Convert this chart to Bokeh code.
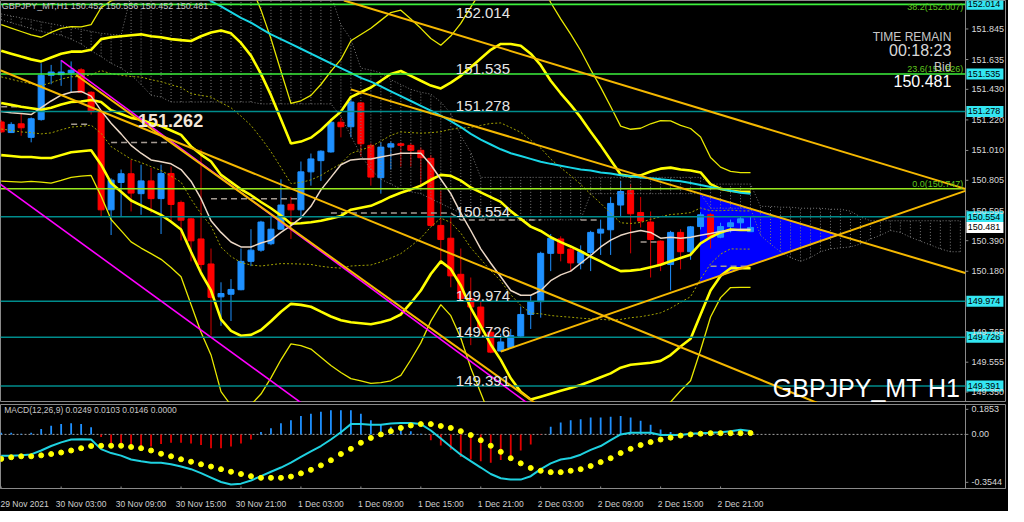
import numpy as np
from bokeh.plotting import figure
from bokeh.layouts import column
from bokeh.models import Range1d, FixedTicker, PrintfTickFormatter
from bokeh.core.properties import value
from bokeh.embed import file_html
from bokeh.resources import INLINE

# ---------------- data ----------------
tick_bars = [0, 6, 12, 18, 24, 30, 36, 42, 48, 54, 60, 66, 72]
tick_labels = ["29 Nov 2021", "30 Nov 03:00", "30 Nov 09:00", "30 Nov 15:00", "30 Nov 21:00",
               "1 Dec 03:00", "1 Dec 09:00", "1 Dec 15:00", "1 Dec 21:00", "2 Dec 03:00",
               "2 Dec 09:00", "2 Dec 15:00", "2 Dec 21:00"]
price_ticks = [151.845, 151.635, 151.430, 151.220, 151.010, 150.805, 150.595, 150.390,
               150.180, 149.765, 149.555, 149.350]

opens = [151.206, 151.133, 151.193, 151.100, 151.222, 151.527, 151.531, 151.543, 151.564, 151.410,
         151.277, 150.602, 150.790, 150.850, 150.713, 150.801, 150.679, 150.852, 150.653, 150.540,
         150.402, 150.230, 150.004, 150.022, 150.053, 150.248, 150.325, 150.369, 150.469, 150.640,
         150.602, 150.863, 150.940, 151.000, 151.204, 151.173, 151.337, 151.045, 150.823, 151.033,
         151.056, 151.045, 151.011, 150.956, 150.495, 150.407, 150.159, 149.993, 149.934, 149.761,
         149.632, 149.655, 149.734, 149.883, 149.971, 150.303, 150.402, 150.332, 150.236, 150.309,
         150.442, 150.465, 150.635, 150.735, 150.584, 150.518, 150.387, 150.226, 150.447, 150.314,
         150.487, 150.568, 150.414, 150.487, 150.513, 150.452]
highs = [151.220, 151.204, 151.262, 151.237, 151.609, 151.598, 151.631, 151.622, 151.576, 151.417,
         151.284, 150.819, 150.879, 150.945, 150.912, 150.890, 150.912, 150.900, 150.666, 150.547,
         151.018, 150.336, 150.104, 150.126, 150.336, 150.469, 150.527, 150.558, 150.812, 150.691,
         150.934, 150.989, 151.011, 151.211, 151.233, 151.377, 151.343, 151.058, 151.066, 151.070,
         151.066, 151.058, 151.031, 150.978, 150.734, 150.562, 150.336, 150.137, 149.971, 149.794,
         149.750, 149.783, 149.938, 150.015, 150.314, 150.436, 150.420, 150.347, 150.358, 150.458,
         150.535, 150.691, 150.801, 150.779, 150.691, 150.591, 150.392, 150.458, 150.469, 150.491,
         150.585, 150.580, 150.513, 150.535, 150.556, 150.556]
lows = [151.130, 151.131, 151.111, 151.066, 151.215, 151.465, 151.454, 151.410, 151.403, 151.257,
        150.558, 150.429, 150.558, 150.591, 150.568, 150.580, 150.436, 150.513, 150.392, 150.248,
        150.181, 149.738, 149.805, 149.838, 150.049, 150.215, 150.314, 150.359, 150.466, 150.402,
        150.558, 150.768, 150.801, 150.995, 151.100, 151.100, 150.967, 150.768, 150.713, 150.879,
        150.900, 150.900, 150.768, 150.487, 150.226, 150.070, 149.971, 149.672, 149.750, 149.617,
        149.628, 149.648, 149.728, 149.783, 149.861, 150.181, 150.248, 150.181, 150.193, 150.181,
        150.292, 150.292, 150.558, 150.303, 150.480, 150.137, 150.181, 150.049, 150.193, 150.259,
        150.467, 150.336, 150.407, 150.447, 150.460, 150.452]
closes = [151.138, 151.189, 151.166, 151.228, 151.527, 151.549, 151.549, 151.561, 151.410, 151.277,
          150.602, 150.806, 150.850, 150.717, 150.801, 150.679, 150.852, 150.639, 150.531, 150.389,
          150.226, 150.000, 150.027, 150.055, 150.248, 150.325, 150.518, 150.469, 150.635, 150.602,
          150.863, 150.952, 151.005, 151.204, 151.173, 151.343, 151.056, 150.827, 151.033, 151.056,
          151.045, 151.011, 150.960, 150.495, 150.398, 150.148, 149.993, 149.934, 149.794, 149.624,
          149.694, 149.738, 149.883, 149.971, 150.303, 150.407, 150.303, 150.237, 150.314, 150.447,
          150.469, 150.646, 150.728, 150.575, 150.525, 150.398, 150.226, 150.447, 150.314, 150.485,
          150.568, 150.414, 150.487, 150.513, 150.540, 150.481]

# Ichimoku-style cloud (upper / lower span), one value per bar incl. future bars
cloud_hi = [151.948, 151.934, 151.921, 151.908, 151.894, 151.881, 151.868, 151.855, 151.841, 151.828,
            151.815, 151.808, 151.802, 152.080, 152.080, 152.080, 152.080, 152.080, 152.080, 152.080,
            152.080, 152.080, 152.080, 152.080, 152.080, 152.080, 152.080, 152.080, 152.080, 152.080,
            152.080, 152.080, 152.080, 152.080, 151.875, 151.775, 151.576, 151.562, 151.543, 151.496,
            151.463, 151.430, 151.410, 151.397, 151.343, 151.264, 151.111, 150.998, 150.825, 150.825,
            150.825, 150.825, 150.825, 150.825, 150.825, 150.825, 150.825, 150.825, 150.825, 150.825,
            150.825, 150.825, 150.825, 150.825, 150.825, 150.825, 150.825, 150.825, 150.825, 150.825,
            150.825, 150.779, 150.779, 150.779, 150.779, 150.779, 150.626, 150.626, 150.620, 150.620,
            150.613, 150.613, 150.613, 150.606, 150.606, 150.593, 150.553, 150.527, 150.527, 150.527,
            150.527, 150.527, 150.527, 150.527, 150.527, 150.527, 150.527]
cloud_lo = [151.908, 151.888, 151.868, 151.848, 151.828, 151.815, 151.802, 151.775, 151.742, 151.695,
            151.655, 151.609, 151.576, 151.529, 151.463, 151.390, 151.377, 151.343, 151.343, 151.343,
            151.343, 151.343, 151.343, 151.343, 151.343, 151.343, 151.330, 151.330, 151.330, 151.330,
            151.330, 151.330, 151.330, 151.330, 151.244, 151.111, 150.978, 150.879, 150.812, 150.779,
            150.746, 150.726, 150.713, 150.679, 150.646, 150.613, 150.580, 150.567, 150.547, 150.533,
            150.533, 150.533, 150.533, 150.533, 150.533, 150.533, 150.533, 150.533, 150.533, 150.713,
            150.713, 150.713, 150.713, 150.713, 150.713, 150.713, 150.713, 150.713, 150.713, 150.713,
            150.713, 150.613, 150.613, 150.613, 150.613, 150.613, 150.427, 150.367, 150.314, 150.274,
            150.248, 150.274, 150.314, 150.334, 150.341, 150.347, 150.367, 150.401, 150.427, 150.460,
            150.447, 150.414, 150.387, 150.361, 150.334, 150.314, 150.314]

# Bollinger band (2 sigma) upper / lower
bb_upper = [151.695, 151.675, 151.655, 151.636, 151.622, 151.649, 151.675, 151.689, 151.689, 151.702,
            151.775, 151.788, 151.795, 151.802, 151.808, 151.795, 151.788, 151.775, 151.768, 151.762,
            151.795, 151.821, 151.835, 151.815, 151.749, 151.662, 151.536, 151.390, 151.224, 151.058,
            151.071, 151.098, 151.151, 151.217, 151.277, 151.377, 151.410, 151.443, 151.489, 151.536,
            151.556, 151.523, 151.489, 151.456, 151.436, 151.476, 151.523, 151.582, 151.642, 151.702,
            151.742, 151.742, 151.729, 151.675, 151.596, 151.489, 151.403, 151.323, 151.237, 151.138,
            151.045, 150.945, 150.845, 150.832, 150.839, 150.865, 150.885, 150.892, 150.879, 150.872,
            150.859, 150.779, 150.746, 150.733, 150.726, 150.726]
bb_lower = [150.978, 150.972, 150.965, 150.965, 150.958, 150.958, 150.978, 150.998, 151.005, 151.011,
            150.912, 150.786, 150.726, 150.666, 150.633, 150.600, 150.567, 150.520, 150.467, 150.314,
            150.168, 150.048, 149.849, 149.770, 149.737, 149.743, 149.776, 149.836, 149.902, 149.956,
            149.949, 149.936, 149.902, 149.869, 149.843, 149.829, 149.823, 149.816, 149.829, 149.849,
            149.883, 149.962, 150.048, 150.161, 150.248, 150.195, 150.082, 149.929, 149.803, 149.677,
            149.571, 149.444, 149.351, 149.298, 149.318, 149.338, 149.358, 149.378, 149.398, 149.424,
            149.451, 149.478, 149.517, 149.537, 149.544, 149.551, 149.564, 149.604, 149.663, 149.716,
            149.883, 150.048, 150.148, 150.201, 150.201, 150.201]

# fast (beige) moving average
ma_fast = [151.277, 151.270, 151.264, 151.257, 151.304, 151.350, 151.390, 151.410, 151.416, 151.383,
           151.284, 151.197, 151.124, 151.045, 150.991, 150.945, 150.932, 150.918, 150.879, 150.799,
           150.679, 150.527, 150.447, 150.381, 150.347, 150.347, 150.374, 150.394, 150.447, 150.493,
           150.547, 150.626, 150.739, 150.825, 150.912, 150.945, 150.952, 150.952, 150.965, 150.978,
           150.991, 150.991, 150.991, 150.912, 150.812, 150.713, 150.580, 150.460, 150.334, 150.235,
           150.142, 150.048, 150.015, 150.015, 150.048, 150.115, 150.155, 150.181, 150.235, 150.288,
           150.347, 150.394, 150.427, 150.447, 150.460, 150.447, 150.407, 150.414, 150.407, 150.414,
           150.427, 150.440, 150.454, 150.460, 150.467, 150.467]

# slow (cyan) moving average, bars 20..75
ma_slow_first_bar = 20
ma_slow = [152.080, 152.037, 152.001, 151.961, 151.921, 151.888, 151.848, 151.808, 151.775, 151.742,
           151.709, 151.675, 151.642, 151.609, 151.576, 151.543, 151.509, 151.483, 151.450, 151.416,
           151.383, 151.350, 151.317, 151.284, 151.250, 151.211, 151.171, 151.124, 151.084, 151.051,
           151.018, 150.991, 150.972, 150.952, 150.932, 150.918, 150.905, 150.892, 150.879, 150.872,
           150.859, 150.852, 150.839, 150.832, 150.825, 150.819, 150.812, 150.806, 150.799, 150.786,
           150.772, 150.759, 150.746, 150.733, 150.719, 150.713]

# base line (grey dashed), None where not visible
kijun = [151.310, 151.310, 151.310, None, None, None, None, 151.191, 151.191, 151.191,
         None, 151.065, 151.065, 151.065, 151.065, 151.065, 151.065, 151.065, None, None,
         None, 150.679, 150.679, 150.679, 150.679, 150.679, 150.679, 150.679, 150.679, 150.679,
         150.679, None, None, 150.580, 150.580, 150.580, 150.580, 150.580, 150.580, 150.580,
         150.580, 150.580, 150.580, 150.580, 150.580, 150.580, 150.533, 150.533, 150.533, 150.533,
         150.533, 150.533, 150.533, 150.533, 150.533, None, None, None, 150.533, 150.533,
         150.533, None, None, None, 150.381, 150.381, 150.381, None, None, None,
         None, 150.215, 150.215, 150.215, 150.215, 150.215]

# MACD panel
macd_main = [-0.157, -0.157, -0.155, -0.148, -0.119, -0.086, -0.059, -0.038, -0.036, -0.038,
             -0.109, -0.138, -0.157, -0.186, -0.198, -0.209, -0.209, -0.221, -0.238, -0.257,
             -0.286, -0.319, -0.352, -0.371, -0.364, -0.341, -0.309, -0.276, -0.245, -0.209,
             -0.166, -0.126, -0.086, -0.038, 0.016, 0.076, 0.076, 0.071, 0.071, 0.081,
             0.084, 0.084, 0.076, 0.029, -0.031, -0.091, -0.150, -0.198, -0.245, -0.293,
             -0.324, -0.334, -0.334, -0.309, -0.257, -0.214, -0.186, -0.174, -0.150, -0.114,
             -0.086, -0.043, 0.000, 0.012, 0.012, 0.012, -0.005, -0.005, -0.005, 0.005,
             0.009, 0.012, 0.016, 0.024, 0.034, 0.025]
macd_signal = [-0.181, -0.169, -0.162, -0.162, -0.155, -0.145, -0.134, -0.119, -0.102, -0.086,
               -0.084, -0.084, -0.084, -0.093, -0.102, -0.119, -0.143, -0.162, -0.184, -0.202,
               -0.221, -0.238, -0.257, -0.276, -0.293, -0.309, -0.321, -0.321, -0.321, -0.312,
               -0.288, -0.262, -0.229, -0.191, -0.145, -0.107, -0.062, -0.026, 0.000, 0.024,
               0.048, 0.066, 0.076, 0.076, 0.062, 0.048, 0.024, -0.005, -0.043, -0.084,
               -0.129, -0.176, -0.214, -0.248, -0.269, -0.279, -0.279, -0.269, -0.257, -0.234,
               -0.205, -0.176, -0.138, -0.107, -0.079, -0.057, -0.038, -0.024, -0.009, 0.000,
               0.005, 0.009, 0.009, 0.009, 0.009, 0.010]
macd_hist = [0.012, 0.012, 0.005, 0.012, 0.040, 0.064, 0.076, 0.083, 0.076, 0.052,
             -0.019, -0.067, -0.079, -0.090, -0.090, -0.090, -0.071, -0.062, -0.062, -0.067,
             -0.079, -0.102, -0.102, -0.090, -0.067, -0.038, 0.017, 0.045, 0.083, 0.105,
             0.136, 0.152, 0.167, 0.179, 0.179, 0.179, 0.152, 0.105, 0.071, 0.057,
             0.040, 0.024, 0.005, -0.043, -0.083, -0.114, -0.167, -0.186, -0.198, -0.210,
             -0.190, -0.162, -0.119, -0.074, -0.005, 0.057, 0.088, 0.105, 0.112, 0.124,
             0.124, 0.131, 0.136, 0.124, 0.100, 0.071, 0.036, 0.017, 0.006, 0.005,
             0.004, 0.004, 0.003, 0.003, 0.003, 0.015]
macd_ticks = [0.1853, 0, -0.3544]
macd_tick_labels = ["0.1853", "0.00", "-0.3544"]
macd_title = "MACD(12,26,9) 0.0249 0.0103 0.0146 0.0000"

# horizontal levels and drawings (bar index, price)
teal_levels = [151.278, 150.554, 149.974, 149.726, 149.391]
green_levels = [152.014, 151.535]
fib_zero = 150.747
fib_texts = ["38.2(152.007)", "23.6(151.526)", "0.0(150.747)"]
fib_levels = [152.014, 151.535, 150.747]
label_levels = [152.014, 151.535, 151.278, 150.554, 149.974, 149.726, 149.391]
swing_level = 151.262
bid = 150.481
magenta_lines = [((6.0, 151.629), (52.7, 149.272)), ((-0.1, 150.779), (30.1, 149.272))]
gold_lines = [((34.3, 152.041), (96.5, 150.746)), ((-0.1, 151.562), (81.8, 149.272)),
              ((7.5, 151.529), (53.5, 149.272))]
tri_upper = ((35.0, 151.430), (96.5, 150.168))
tri_lower = ((50.0, 149.628), (96.5, 150.732))
tri_start_bar = 70.0
info_text = "GBPJPY_MT,H1  150.452 150.556 150.452 150.481"

# ---------------- styling ----------------
FONT = value("Liberation Sans")
BG = "black"
GREY = "#7a7a7a"
AX = "#8a8a8a"
X0, X1 = -0.07, 100.52      # full window width (price scale included)
XA = 96.5                    # position of the price scale line
Y0, Y1 = 149.278, 152.0406
FW = 1005


def at(seg, b):
    (b0, p0), (b1, p1) = seg
    return p0 + (p1 - p0) * (b - b0) / (b1 - b0)


def style_yaxis(p, ticks):
    p.grid.visible = False
    ax = p.yaxis[0]
    ax.ticker = FixedTicker(ticks=ticks)
    ax.axis_line_color = None
    ax.major_tick_line_color = None
    ax.minor_tick_line_color = None
    ax.major_tick_in = 0
    ax.major_tick_out = 0
    ax.major_label_text_color = "#d8d8d8"
    ax.major_label_text_font = "Liberation Sans"
    ax.major_label_text_font_size = "9px"
    ax.major_label_standoff = -34
    p.vspan(x=[XA], line_color=AX, line_width=1)
    p.ray(x=[XA] * len(ticks), y=ticks, length=3, length_units="screen", angle=0,
          line_color=AX, line_width=1)


main = figure(frame_width=FW, frame_height=402, x_range=Range1d(X0, X1), y_range=Range1d(Y0, Y1),
              y_axis_location="right", x_axis_location=None, output_backend="svg",
              toolbar_location=None, background_fill_color=BG, border_fill_color=BG,
              outline_line_color=AX, min_border_left=0, min_border_right=3,
              min_border_top=0, min_border_bottom=0)
style_yaxis(main, price_ticks)
main.yaxis.formatter = PrintfTickFormatter(format="%.3f")

n = len(closes)
bars = np.arange(n)
o, hi, lo, c = map(np.array, (opens, highs, lows, closes))
up = c >= o

# blue triangle (drawing in background)
(ua, ub), (la, lb) = tri_upper, tri_lower
su = (ub[1] - ua[1]) / (ub[0] - ua[0])
sl = (lb[1] - la[1]) / (lb[0] - la[0])
apex_b = (la[1] - ua[1] + su * ua[0] - sl * la[0]) / (su - sl)
main.patch([tri_start_bar, tri_start_bar, apex_b],
           [at(tri_upper, tri_start_bar), at(tri_lower, tri_start_bar), at(tri_upper, apex_b)],
           fill_color="#0000ff", line_color="#0000ff")

# candles
wick_col = np.where(up, "#1e90ff", "#d00000")
body_col = np.where(up, "#1e90ff", "#ff0000")
main.segment(x0=bars, y0=lo, x1=bars, y1=hi, line_color=list(wick_col), line_width=1)
main.vbar(x=bars, width=0.6, top=np.maximum(o, c), bottom=np.minimum(o, c),
          fill_color=list(body_col), line_color=list(body_col))

# cloud hatching
cb = np.arange(len(cloud_hi))
main.segment(x0=cb, y0=cloud_lo, x1=cb, y1=cloud_hi, line_color=GREY, line_dash="1 2", line_width=1)
main.line(cb, cloud_hi, line_color=GREY, line_dash="1 2", line_width=1)
main.line(cb, cloud_lo, line_color=GREY, line_dash="1 2", line_width=1)

# base line
kj = np.array([np.nan if v is None else v for v in kijun])
main.line(bars, kj, line_color="#a49a92", line_dash="6 4", line_width=1.5)

# bollinger family
ub_, lb_ = np.array(bb_upper), np.array(bb_lower)
mid = (ub_ + lb_) / 2
hw = (ub_ - lb_) / 2
for k in (0.5, -0.5):
    main.line(bars, mid + k * hw, line_color="#a0a000", line_dash="2 2", line_width=1)
for k in (1.5, -1.5):
    main.line(bars, mid + k * hw, line_color="#e8e800", line_width=1.3)
for arr in (ub_, lb_, mid):
    main.line(bars, arr, line_color="#ffff00", line_width=2.6)

# moving averages
main.line(np.arange(ma_slow_first_bar, ma_slow_first_bar + len(ma_slow)), ma_slow,
          line_color="#18d6e6", line_width=2)
main.line(bars, ma_fast, line_color="#ecd8c6", line_width=1.5)


def hlines(levels, color, width):
    main.segment(x0=[X0] * len(levels), x1=[XA] * len(levels), y0=levels, y1=levels,
                 line_color=color, line_width=width)


hlines(teal_levels, "#008c8c", 1.6)
hlines(green_levels, "#3cf03c", 1.6)
hlines([fib_zero], "#96e81e", 1.4)

# trend lines
for seg in magenta_lines:
    (b0, _), (b1, _) = seg
    main.line([b0, b1], [at(seg, b0), at(seg, b1)], line_color="#ff00ff", line_width=1.6)
for seg in gold_lines + [tri_upper, tri_lower]:
    (b0, _), (b1, _) = seg
    main.line([b0, b1], [at(seg, b0), at(seg, b1)], line_color="#f5b800", line_width=2)

# texts on the chart
lvl_y = [min(v, Y1 - 0.12) for v in label_levels]
main.text(x=[45.5] * len(label_levels), y=lvl_y, text=[f"{v:.3f}" for v in label_levels],
          text_font=FONT, text_font_size="15px", text_color="#e6e6e6",
          text_align="left", text_baseline="bottom")
main.text(x=[13.7], y=[swing_level], text=[f"{swing_level:.3f}"], text_font=FONT,
          text_font_size="18px", text_font_style="bold", text_color="#f2e6d8",
          text_align="left", text_baseline="top")
fib_y = [min(v, Y1 - 0.08) for v in fib_levels]
main.text(x=[96.3] * 3, y=fib_y, text=fib_texts, text_font=FONT, text_font_size="9px",
          text_color="#5fc81e", text_align="right", text_baseline="bottom")
main.text(x=[0.05], y=[Y1 - 0.005], text=[info_text], text_font=FONT, text_font_size="9px",
          text_color="#c8c8c8", text_align="left", text_baseline="top")
main.text(x=[95.1] * 4, y=[151.792, 151.699, 151.582, 151.486],
          text=["TIME REMAIN", "00:18:23", "Bid", f"{bid:.3f}"], text_font=FONT,
          text_font_size=["12px", "16px", "12px", "16px"],
          text_color=["#c8c8c8", "#d8d8d8", "#c8c8c8", "#ffffff"],
          text_align="right", text_baseline="middle")
main.text(x=[96.0], y=[149.38], text=["GBPJPY_MT H1"], text_font=FONT, text_font_size="25px",
          text_color="#ffffff", text_align="right", text_baseline="alphabetic")

# price boxes on the scale
box_x = [98.46] * len(label_levels)
main.rect(x=box_x + [98.46], y=label_levels + [bid], width=37, height=11,
          width_units="screen", height_units="screen",
          fill_color=["#33e6f2"] * len(label_levels) + ["#ffffff"], line_color=None)
main.text(x=[96.75] * (len(label_levels) + 1), y=label_levels + [bid],
          text=[f"{v:.3f}" for v in label_levels + [bid]], text_font=FONT, text_font_size="9px",
          text_color="#000000", text_align="left", text_baseline="middle")

# ---------------- MACD panel ----------------
macd = figure(frame_width=FW, frame_height=84, x_range=main.x_range, y_range=Range1d(-0.4, 0.221),
              y_axis_location="right", output_backend="svg", toolbar_location=None,
              background_fill_color=BG, border_fill_color=BG, outline_line_color=AX,
              min_border_left=0, min_border_right=3, min_border_top=2, min_border_bottom=0)
style_yaxis(macd, macd_ticks)
macd.yaxis.major_label_overrides = {t: s for t, s in zip(macd_ticks, macd_tick_labels)}
macd.xaxis.ticker = FixedTicker(ticks=[b + 2 for b in tick_bars])
macd.xaxis.major_label_overrides = {b + 2: s for b, s in zip(tick_bars, tick_labels)}
macd.xaxis.major_tick_line_color = None
macd.xaxis.minor_tick_line_color = None
macd.xaxis.axis_line_color = AX
macd.xaxis.major_label_text_color = "#d0d0d0"
macd.xaxis.major_label_text_font = "Liberation Sans"
macd.xaxis.major_label_text_font_size = "8.5px"
macd.xaxis.major_label_standoff = 4

macd.segment(x0=tick_bars, y0=[-0.4] * len(tick_bars), x1=tick_bars, y1=[-0.385] * len(tick_bars),
             line_color=AX, line_width=1)
macd.segment(x0=[X0], x1=[XA], y0=[0], y1=[0], line_color="#a0a0a0", line_dash="2 2", line_width=1)
hist = np.array(macd_hist)
macd.segment(x0=bars, y0=np.zeros(n), x1=bars, y1=hist,
             line_color=list(np.where(hist >= 0, "#1e90ff", "#e00000")), line_width=1.8)
macd.line(bars, macd_main, line_color="#1fd1e0", line_width=2)
macd.scatter(bars, macd_signal, size=5, fill_color="#ffff00", line_color="#ffff00")
macd.text(x=[0.3], y=[0.216], text=[macd_title], text_font=FONT, text_font_size="8.5px",
          text_color="#c8c8c8", text_align="left", text_baseline="top")

layout = column(main, macd, spacing=0, styles={"background-color": "black"})
open("out.html", "w").write(file_html(layout, INLINE))
